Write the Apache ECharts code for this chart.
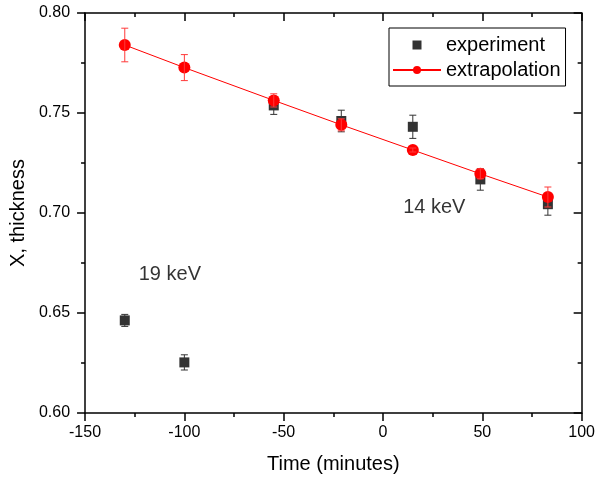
<!DOCTYPE html>
<html>
<head>
<meta charset="utf-8">
<script src="https://cdn.jsdelivr.net/npm/echarts@6/dist/echarts.min.js"></script>
<style>
html,body{margin:0;padding:0;background:#fff;}
#c{width:598px;height:479px;}
</style>
</head>
<body>
<div id="c"></div>
<script>
// ---- data ----
const timeExp = [-130, -100, -55, -21, 15, 49, 83];
const expValues = [0.6463, 0.6253, 0.7538, 0.7460, 0.7431, 0.7168, 0.7044];
const expErrors = [0.0030, 0.0038, 0.0045, 0.0054, 0.0058, 0.0054, 0.0055];

const timeExtra = [-130, -100, -55, -21, 15, 49, 83];
const extraValues = [0.7840, 0.7727, 0.7563, 0.7441, 0.7315, 0.7196, 0.7080];
const extraErrors = [0.0084, 0.0065, 0.0033, 0.0030, 0.0010, 0.0025, 0.0050];

const xTicks = [-150, -100, -50, 0, 50, 100];
const yTicks = [0.60, 0.65, 0.70, 0.75, 0.80];

const annotationTexts = ['14 keV', '19 keV'];
const annotationX = [25.8, -107.3];
const annotationY = [0.7027, 0.6695];

// ---- build ----
const FONT = 'Liberation Sans, Arial, Helvetica, sans-serif';
const expData = timeExp.map((t, i) => [t, expValues[i]]);
const extraData = timeExtra.map((t, i) => [t, extraValues[i]]);
const expErrData = timeExp.map((t, i) => [t, expValues[i] - expErrors[i], expValues[i] + expErrors[i]]);
const extraErrData = timeExtra.map((t, i) => [t, extraValues[i] - extraErrors[i], extraValues[i] + extraErrors[i]]);
const annData = annotationTexts.map((s, i) => ({ value: [annotationX[i], annotationY[i]], name: s }));

function errRender(color) {
  return function (params, api) {
    const x = api.value(0);
    const lo = api.coord([x, api.value(1)]);
    const hi = api.coord([x, api.value(2)]);
    const hw = 3.5;
    const style = { stroke: color, lineWidth: 1 };
    return {
      type: 'group',
      children: [
        { type: 'line', shape: { x1: lo[0], y1: lo[1], x2: hi[0], y2: hi[1] }, style },
        { type: 'line', shape: { x1: lo[0] - hw, y1: lo[1], x2: lo[0] + hw, y2: lo[1] }, style },
        { type: 'line', shape: { x1: hi[0] - hw, y1: hi[1], x2: hi[0] + hw, y2: hi[1] }, style }
      ]
    };
  };
}

const axisLine = { show: true, onZero: false, lineStyle: { color: '#000', width: 1.5 } };
const tickStyle = { color: '#000', width: 1.5 };
const chart = echarts.init(document.getElementById('c'));
chart.setOption({
  animation: false,
  backgroundColor: '#fff',
  grid: { left: 83, right: 15, top: 13, bottom: 63, containLabel: false },
  legend: {
    orient: 'vertical',
    left: 389, top: 28,
    borderColor: '#000', borderWidth: 1,
    padding: [7, 5, 6, 3],
    itemWidth: 48, itemHeight: 10, itemGap: 5,
    textStyle: { fontFamily: FONT, fontSize: 20, color: '#000' },
    data: [
      { name: 'experiment', icon: 'path://M0,0M48,10M19.5,0.5h9v9h-9z' },
      { name: 'extrapolation' }
    ]
  },
  xAxis: [
    {
      type: 'value', min: xTicks[0], max: xTicks[xTicks.length - 1], interval: 50,
      position: 'bottom',
      axisLine, splitLine: { show: false },
      axisTick: { show: true, inside: false, length: 8, lineStyle: tickStyle },
      minorTick: { show: true, splitNumber: 2, length: 4, lineStyle: tickStyle },
      axisLabel: { fontFamily: FONT, fontSize: 16, color: '#000', margin: 12 },
      name: 'Time (minutes)', nameLocation: 'middle', nameGap: 41,
      nameTextStyle: { fontFamily: FONT, fontSize: 20, color: '#000' }
    },
    {
      type: 'value', min: xTicks[0], max: xTicks[xTicks.length - 1], interval: 50,
      position: 'top',
      axisLine, splitLine: { show: false },
      axisTick: { show: true, inside: true, length: 8, lineStyle: tickStyle },
      minorTick: { show: true, splitNumber: 2, length: 4, lineStyle: tickStyle },
      axisLabel: { show: false }
    }
  ],
  yAxis: [
    {
      type: 'value', min: yTicks[0], max: yTicks[yTicks.length - 1], interval: 0.05,
      position: 'left',
      axisLine, splitLine: { show: false },
      axisTick: { show: true, inside: false, length: 8, lineStyle: tickStyle },
      minorTick: { show: true, splitNumber: 2, length: 4, lineStyle: tickStyle },
      axisLabel: { fontFamily: FONT, fontSize: 16, color: '#000', margin: 15, formatter: v => v.toFixed(2) },
      name: 'X, thickness', nameLocation: 'middle', nameGap: 51,
      nameTextStyle: { fontFamily: FONT, fontSize: 20, color: '#000' }
    },
    {
      type: 'value', min: yTicks[0], max: yTicks[yTicks.length - 1], interval: 0.05,
      position: 'right',
      axisLine, splitLine: { show: false },
      axisTick: { show: true, inside: true, length: 8, lineStyle: tickStyle },
      minorTick: { show: true, splitNumber: 2, length: 4, lineStyle: tickStyle },
      axisLabel: { show: false }
    }
  ],
  series: [
    {
      name: 'experiment', type: 'scatter', data: expData,
      symbol: 'rect', symbolSize: 10, itemStyle: { color: '#000' }, z: 2
    },
    {
      name: 'expErr', type: 'custom', data: expErrData, renderItem: errRender('#333'),
      encode: { x: 0, y: [1, 2] }, z: 3, silent: true
    },
    {
      name: 'extrapolation', type: 'line', data: extraData,
      symbol: 'circle', symbolSize: 12, showAllSymbol: true,
      lineStyle: { color: '#ff0000', width: 1 }, itemStyle: { color: '#ff0000' }, z: 4
    },
    {
      name: 'extraErr', type: 'custom', data: extraErrData, renderItem: errRender('#ff3a3a'),
      encode: { x: 0, y: [1, 2] }, z: 5, silent: true
    },
    {
      name: 'annotations', type: 'scatter', data: annData, symbolSize: 0, silent: true,
      label: { show: true, position: 'inside', formatter: p => p.name,
        fontFamily: FONT, fontSize: 20, color: '#000' }, z: 6
    }
  ]
});
</script>
</body>
</html>
